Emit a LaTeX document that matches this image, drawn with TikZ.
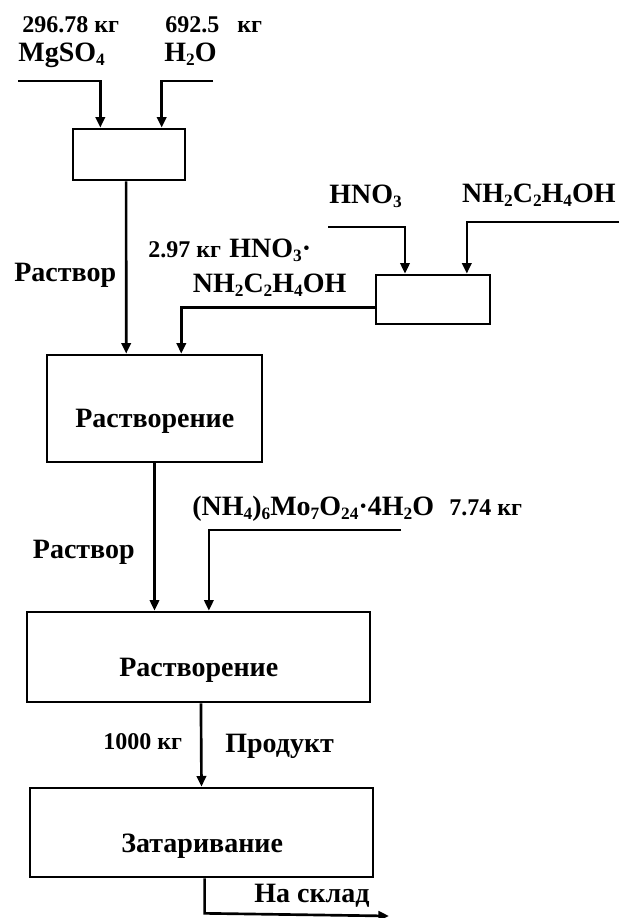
\documentclass[tikz,border=0pt]{standalone}
\usepackage{fontspec}
\setmainfont{Liberation Serif}
\usetikzlibrary{arrows.meta,calc}
\newcommand\sbs[1]{\raisebox{-3.5pt}{\fontsize{13}{13}\selectfont #1}}
\begin{document}
\begin{tikzpicture}[x=0.75pt,y=-0.75pt,
  line width=2pt,
  arr/.style={-{Triangle[length=8pt,width=7pt]}},
  box/.style={draw,rectangle,inner sep=0pt},
  lbl/.style={anchor=base west,inner sep=0pt,font=\fontsize{21}{24}\selectfont\bfseries},
  num/.style={anchor=base west,inner sep=0pt,font=\fontsize{18}{20}\selectfont\bfseries}]
\useasboundingbox (0,0) rectangle (619,918);
% boxes
\node[box,minimum width=84pt,minimum height=38.25pt] (b1) at (129,154.5) {};
\node[box,minimum width=85.5pt,minimum height=36.75pt] (b3) at (433,299.5) {};
\node[box,minimum width=161.25pt,minimum height=80.25pt] (b2) at (154.5,408.5) {};
\node[box,minimum width=257.25pt,minimum height=67.5pt] (b4) at (198.5,657) {};
\node[box,minimum width=257.25pt,minimum height=66.75pt] (b5) at (201.5,832.5) {};
% box texts
\node[lbl] (t2) at (74,427) {Растворение};
\node[lbl] (t4) at (118,676) {Растворение};
\node[lbl] (t5) at (120,852) {Затаривание};
% top labels
\node[num] (n1) at (21,32) {296.78 кг};
\node[num] (n2) at (164,32) {692.5\ \ \ кг};
\node[lbl] (mg) at (17,61) {MgSO\sbs{4}};
\node[lbl] (h2o) at (163,61) {H\sbs{2}O};
\node[lbl] (hno) at (328,203) {HNO\sbs{3}};
\node[lbl,anchor=base east] (mea) at (617,202) {NH\sbs{2}C\sbs{2}H\sbs{4}OH};
\node[num] (n3) at (147,257) {2.97 кг};
\node[lbl] (salt1) at (228,257) {HNO\sbs{3}·};
\node[lbl] (salt2) at (191.5,292) {NH\sbs{2}C\sbs{2}H\sbs{4}OH};
\node[lbl] (r1) at (13,281) {Раствор};
\node[lbl] (mo) at (191,515) {(NH\sbs{4})\sbs{6}Mo\sbs{7}O\sbs{24}·4H\sbs{2}O};
\node[num] (n4) at (448,515) {7.74 кг};
\node[lbl] (r2) at (31.6,558) {Раствор};
\node[num] (n5) at (102,749) {1000 кг};
\node[lbl] (pr) at (224,752) {Продукт};
\node[lbl] (sk) at (253,902) {На склад};
% free ends
\coordinate (inM) at (18,81);
\coordinate (inH) at (213,81);
\coordinate (inN) at (328,227);
\coordinate (inE) at (619,222);
\coordinate (inMo) at (401,530);
\coordinate (out) at (389,916);
% connectors
\draw[arr] (inM) -| ($(b1.north west)!0.25!(b1.north east)$);
\draw[arr] (inH) -| ($(b1.north west)!0.785!(b1.north east)$);
\draw[arr] ($(b1.south west)!0.475!(b1.south east)$) -- ($(b2.north west)!0.37!(b2.north east)$);
\draw[arr] (inN) -| ($(b3.north west)!0.26!(b3.north east)$);
\draw[arr] (inE) -| ($(b3.north west)!0.79!(b3.north east)$);
\draw[arr] ($(b3.north west)!0.65!(b3.south west)$) -| ($(b2.north west)!0.623!(b2.north east)$);
\draw[arr] (b2.south) -- (b2.south |- b4.north);
\draw[arr] (inMo) -| ($(b4.north west)!0.53!(b4.north east)$);
\draw[arr] ($(b4.south west)!0.507!(b4.south east)$) -- ($(b5.north west)!0.5!(b5.north east)$);
\draw[arr] ($(b5.south west)!0.509!(b5.south east)$) -- ++(0,35) -- (out);
\end{tikzpicture}
\end{document}
